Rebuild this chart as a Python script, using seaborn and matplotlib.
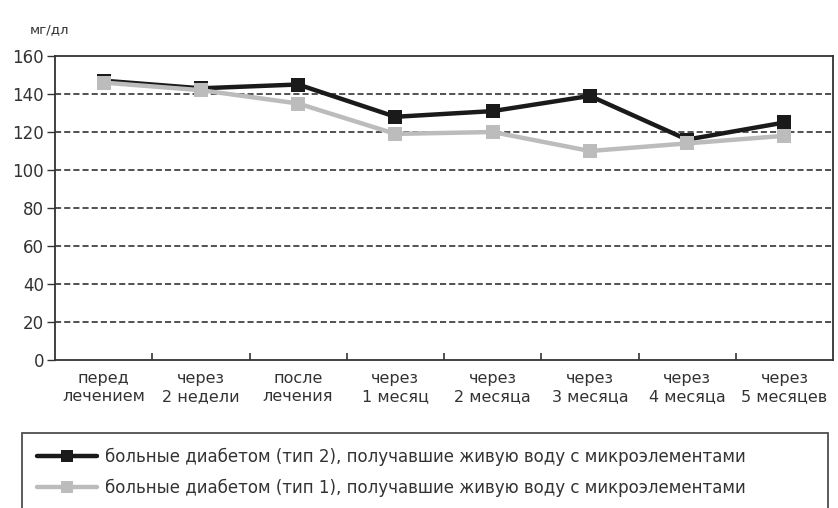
"""Glucose levels over treatment for two groups of diabetes patients."""

import matplotlib
matplotlib.use("Agg")
import matplotlib.pyplot as plt
import numpy as np
import pandas as pd
import seaborn as sns

# categories on the x axis
periods = [
    "перед\nлечением",
    "через\n2 недели",
    "после\nлечения",
    "через\n1 месяц",
    "через\n2 месяца",
    "через\n3 месяца",
    "через\n4 месяца",
    "через\n5 месяцев",
]
type2_values = [147, 143, 145, 128, 131, 139, 116, 125]
type1_values = [146, 142, 135, 119, 120, 110, 114, 118]

type2_label = "больные диабетом (тип 2), получавшие живую воду с микроэлементами"
type1_label = "больные диабетом (тип 1), получавшие живую воду с микроэлементами"

y_ticks = [0, 20, 40, 60, 80, 100, 120, 140, 160]
y_unit = "мг/дл"

sns.set_style("white")
plt.rcParams["font.family"] = ["DejaVu Sans"]
text_color = "#333333"

df = pd.DataFrame({
    "pos": list(range(len(periods))) * 2,
    "value": type2_values + type1_values,
    "group": [type2_label] * len(periods) + [type1_label] * len(periods),
})

fig = plt.figure(figsize=(8.38, 5.08), dpi=100)
ax = fig.add_axes([55 / 838, 1 - 360 / 508, (833 - 55) / 838, (360 - 56) / 508])

sns.lineplot(
    data=df, x="pos", y="value", hue="group",
    hue_order=[type2_label, type1_label],
    palette=["#1a1a1a", "#bcbcbc"],
    style="group", markers=["s", "s"], dashes=False,
    markersize=10, markeredgewidth=0, linewidth=3.2,
    ax=ax, legend=False,
)

ax.set_xlim(-0.5, len(periods) - 0.5)
ax.set_ylim(0, 160)
ax.set_yticks(y_ticks)
ax.set_yticklabels([str(v) for v in y_ticks], fontsize=12, color=text_color)
ax.set_xticks(range(len(periods)))
ax.set_xticklabels(periods, fontsize=11.5, color=text_color, linespacing=1.25)
ax.set_xticks(np.arange(0.5, len(periods) - 1, 1), minor=True)
ax.tick_params(axis="x", which="major", length=0, pad=8)
ax.tick_params(axis="x", which="minor", length=5, width=1.2, direction="in",
               color="#333333", bottom=True)
ax.tick_params(axis="y", length=6, width=1, direction="out", color="#333333",
               left=True, pad=2)
ax.set_xlabel("")
ax.set_ylabel("")

for v in y_ticks[1:-1]:
    ax.axhline(v, color="#222222", linestyle=(0, (4, 2)), linewidth=1.1, zorder=0)

for side in ["left", "bottom", "top", "right"]:
    ax.spines[side].set_visible(True)
    ax.spines[side].set_color("#333333")
    ax.spines[side].set_linewidth(1.3)

fig.text(30 / 838, 1 - 30 / 508, y_unit, fontsize=9.5, color=text_color,
         ha="left", va="center")

handles = [
    plt.Line2D([], [], color="#1a1a1a", linewidth=3.2, marker="s", markersize=9,
               markeredgewidth=0),
    plt.Line2D([], [], color="#bcbcbc", linewidth=3.2, marker="s", markersize=9,
               markeredgewidth=0),
]
leg_top = 1 - 433 / 508
leg = fig.legend(
    handles, [type2_label, type1_label],
    loc="upper left", mode="expand", borderaxespad=0,
    bbox_to_anchor=(22 / 838, -0.1, (828 - 22) / 838, leg_top + 0.1),
    frameon=True, fancybox=False, fontsize=12, handlelength=3.6,
    handletextpad=0.5, labelspacing=0.75, borderpad=0.9,
    labelcolor=text_color,
)
leg.get_frame().set_edgecolor("#222222")
leg.get_frame().set_linewidth(1.3)

fig.savefig("out.png", dpi=100)
